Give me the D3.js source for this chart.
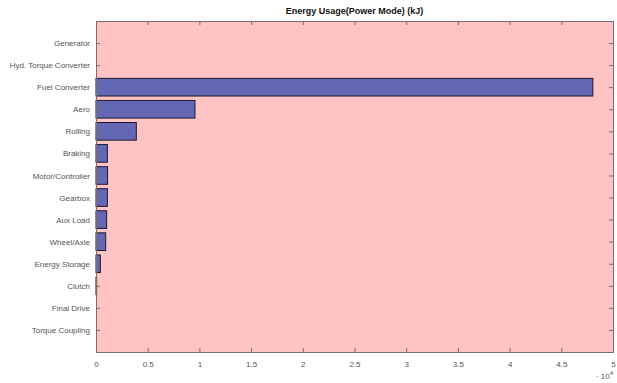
<!DOCTYPE html>
<html>
<head>
<meta charset="utf-8">
<script src="https://cdn.jsdelivr.net/npm/d3@7"></script>
<style>
  body { margin: 0; background: #fff; }
  svg { display: block; font-family: "Liberation Sans", Arial, sans-serif; }
</style>
</head>
<body>
<svg id="chart"></svg>
<script>
// DATA
const categories = [
  "Generator", "Hyd. Torque Converter", "Fuel Converter", "Aero", "Rolling",
  "Braking", "Motor/Controller", "Gearbox", "Aux Load", "Wheel/Axle",
  "Energy Storage", "Clutch", "Final Drive", "Torque Coupling"
];
const energy = [0, 0, 48050, 9570, 3900, 1100, 1120, 1100, 1030, 940, 420, 60, 0, 0];
const xTicks = [0, 0.5, 1, 1.5, 2, 2.5, 3, 3.5, 4, 4.5, 5];
const titleText = "Energy Usage(Power Mode) (kJ)";

// DIMENSIONS
const dims = { width: 617, height: 383 };
const margin = { top: 21, right: 4, bottom: 31, left: 96 };
const innerW = dims.width - margin.left - margin.right;
const innerH = dims.height - margin.top - margin.bottom;

const svg = d3.select("#chart")
  .attr("width", dims.width)
  .attr("height", dims.height);

// SCALES (x in units of 10^4, y like matlab barh: slots 0..15)
const x = d3.scaleLinear().domain([0, 5]).range([0, innerW]);
const y = d3.scaleLinear().domain([0, categories.length + 1]).range([0, innerH]);
const barH = y(0.8) - y(0);

const g = svg.append("g").attr("transform", `translate(${margin.left},${margin.top})`);

// BACKGROUND
g.append("rect")
  .attr("width", innerW)
  .attr("height", innerH)
  .attr("fill", "#ffc3c3");

// BARS
g.selectAll("rect.bar")
  .data(energy)
  .join("rect")
  .attr("class", "bar")
  .attr("x", x(0))
  .attr("y", (d, i) => y(i + 1) - barH / 2)
  .attr("width", (d) => x(d / 1e4) - x(0))
  .attr("height", barH)
  .attr("fill", "#6367b4")
  .attr("stroke", "#1a1a2e")
  .attr("stroke-width", 1);

// AXES
const axisColor = "#7d6c6c";
const textColor = "#555";

const xBottom = g.append("g")
  .attr("transform", `translate(0,${innerH})`)
  .call(d3.axisBottom(x).tickValues(xTicks).tickSize(-4).tickPadding(9)
    .tickFormat((d) => d3.format("~g")(d)));
const xTop = g.append("g")
  .call(d3.axisTop(x).tickValues(xTicks).tickSize(-4).tickFormat(""));

const yVals = categories.map((c, i) => i + 1);
const yLeft = g.append("g")
  .call(d3.axisLeft(y).tickValues(yVals).tickSize(-4).tickPadding(6)
    .tickFormat((d) => categories[d - 1]));
const yRight = g.append("g")
  .attr("transform", `translate(${innerW},0)`)
  .call(d3.axisRight(y).tickValues(yVals).tickSize(-4).tickFormat(""));

[xBottom, xTop, yLeft, yRight].forEach((a) => {
  a.select(".domain").attr("stroke", axisColor);
  a.selectAll(".tick line").attr("stroke", axisColor);
  a.selectAll("text").attr("fill", textColor).style("font-size", "8px");
});

// EXPONENT LABEL
const expo = svg.append("text")
  .attr("x", dims.width - 4)
  .attr("y", 379)
  .attr("text-anchor", "end")
  .attr("fill", textColor)
  .style("font-size", "8px")
  .text("\u00b7 10");
expo.append("tspan")
  .attr("dy", -4)
  .style("font-size", "6px")
  .text("4");

// TITLE
svg.append("text")
  .attr("x", margin.left + innerW / 2)
  .attr("y", 14)
  .attr("text-anchor", "middle")
  .attr("fill", "#111")
  .style("font-size", "9px")
  .style("font-weight", "bold")
  .text(titleText);
</script>
</body>
</html>
